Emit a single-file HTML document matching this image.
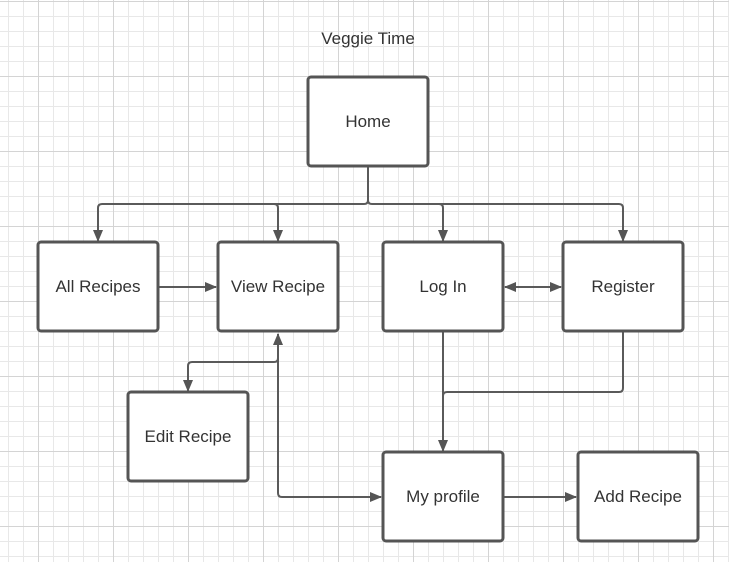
<!DOCTYPE html>
<html><head><style>
body{margin:0;background:#fff}
.wrap{width:729px;height:562px;position:relative;
background-image:
linear-gradient(to right,#d4d4d4 1px,transparent 1px),
linear-gradient(to bottom,#d4d4d4 1px,transparent 1px),
linear-gradient(to right,#e8e8e8 1px,transparent 1px),
linear-gradient(to bottom,#e8e8e8 1px,transparent 1px);
background-size:75px 75px,75px 75px,15px 15px,15px 15px;
background-position:38px 1px,38px 1px,8px 1px,8px 1px;}
svg{display:block;position:absolute;left:0;top:0}
</style></head><body><div class="wrap">
<svg width="729" height="562" viewBox="0 0 729 562" xmlns="http://www.w3.org/2000/svg">
<defs>
<marker id="a" markerWidth="12" markerHeight="12" refX="11" refY="6" orient="auto-start-reverse" markerUnits="userSpaceOnUse"><path d="M0 1L12 6L0 11Z" fill="#555"/></marker>
</defs>
<g fill="none" stroke="#5a5a5a" stroke-width="2">
<path d="M368 166V200Q368 204 364 204H102Q98 204 98 208V241" marker-end="url(#a)"/>
<path d="M368 200Q368 204 372 204H619Q623 204 623 208V241" marker-end="url(#a)"/>
<path d="M274 204Q278 204 278 208V241" marker-end="url(#a)"/>
<path d="M439 204Q443 204 443 208V241" marker-end="url(#a)"/>
<path d="M158 287H216" marker-end="url(#a)"/>
<path d="M505 287H561" marker-start="url(#a)" marker-end="url(#a)"/>
<path d="M278 334V493Q278 497 282 497H381" marker-start="url(#a)" marker-end="url(#a)"/>
<path d="M278 358Q278 362 274 362H192Q188 362 188 366V391" marker-end="url(#a)"/>
<path d="M443 331V451" marker-end="url(#a)"/>
<path d="M623 331V388Q623 392 619 392H447Q443 392 443 396"/>
<path d="M503 497H576" marker-end="url(#a)"/>
</g>
<g fill="#fff" stroke="#555" stroke-width="3">
<rect x="308" y="77" width="120" height="89" rx="3"/>
<rect x="38" y="242" width="120" height="89" rx="3"/>
<rect x="218" y="242" width="120" height="89" rx="3"/>
<rect x="383" y="242" width="120" height="89" rx="3"/>
<rect x="563" y="242" width="120" height="89" rx="3"/>
<rect x="128" y="392" width="120" height="89" rx="3"/>
<rect x="383" y="452" width="120" height="89" rx="3"/>
<rect x="578" y="452" width="120" height="89" rx="3"/>
</g>
<g font-family="Liberation Sans, sans-serif" font-size="17" fill="#333" text-anchor="middle">
<text x="368" y="44">Veggie Time</text>
<text x="368" y="127">Home</text>
<text x="98" y="292">All Recipes</text>
<text x="278" y="292">View Recipe</text>
<text x="443" y="292">Log In</text>
<text x="623" y="292">Register</text>
<text x="188" y="442">Edit Recipe</text>
<text x="443" y="502">My profile</text>
<text x="638" y="502">Add Recipe</text>
</g>
</svg>
</div></body></html>
